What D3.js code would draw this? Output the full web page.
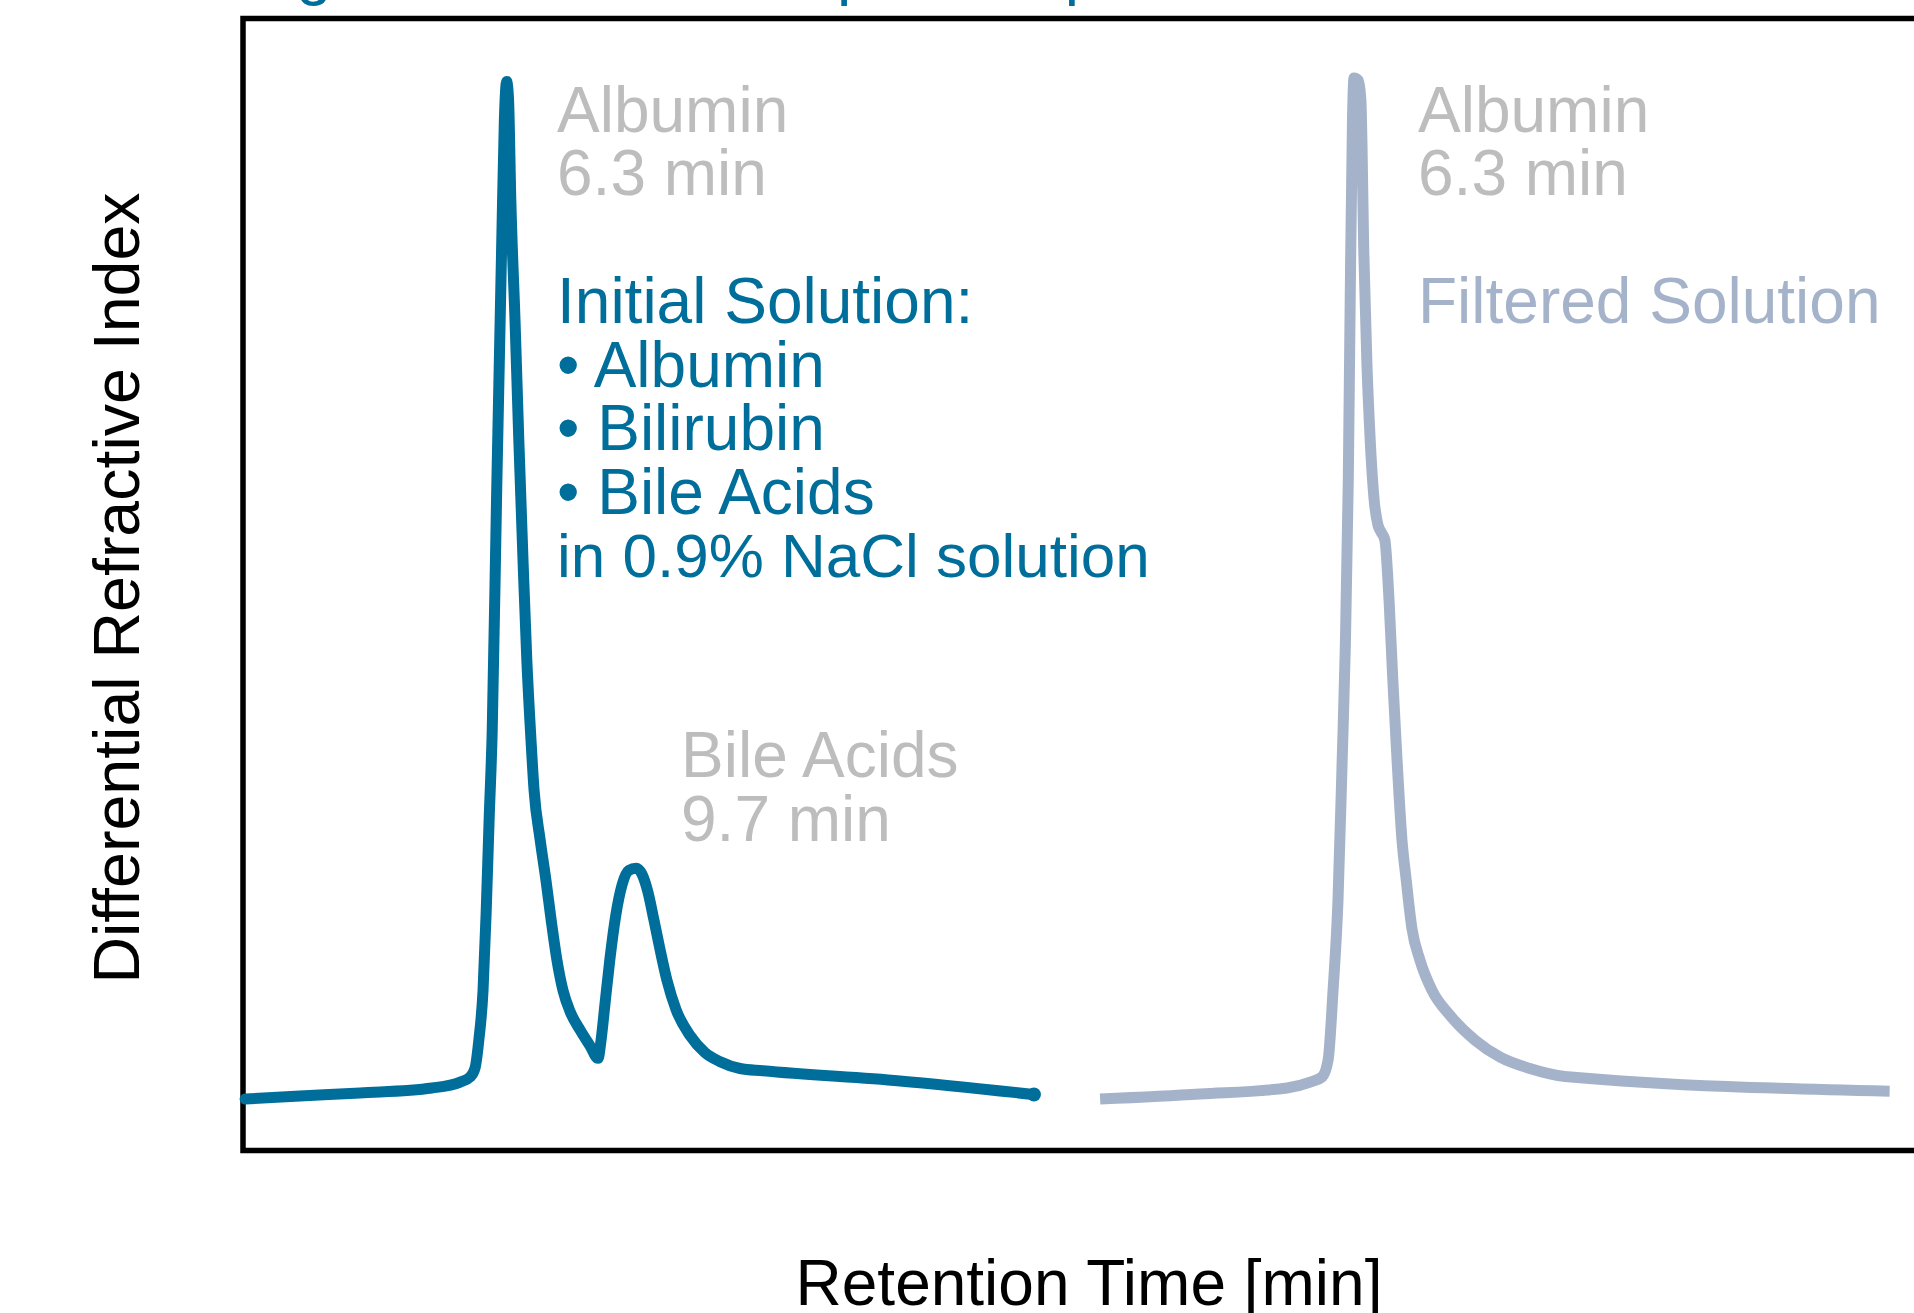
<!DOCTYPE html>
<html>
<head>
<meta charset="utf-8">
<script src="https://cdn.jsdelivr.net/npm/d3@7"></script>
<style>
  html, body { margin: 0; padding: 0; background: #fff; }
  svg { display: block; }
  text { font-family: "Liberation Sans", Arial, sans-serif; }
</style>
</head>
<body>
<svg id="chart" width="1914" height="1313"></svg>
<script>
// ---------- DATA ----------
const titleText = "Figure 4: HPLC Comparison prior to and after Filtration";
const xAxisLabel = "Retention Time [min]";
const yAxisLabel = "Differential Refractive Index";

// Initial solution chromatogram (retention time in min, detector signal in a.u.)
const initialTime = [-0.57, 0.87, 2.45, 4.34, 5.08, 5.34, 5.47, 5.57, 5.68, 5.76, 5.84, 5.92, 6.04, 6.17, 6.24, 6.30,
  6.35, 6.41, 6.52, 6.62, 6.73, 6.83, 6.94, 7.02, 7.18, 7.33, 7.47, 7.62, 7.78, 7.97, 8.23, 8.49, 8.70,
  8.78, 8.88, 9.01, 9.17, 9.33, 9.51, 9.70, 9.85, 10.01, 10.17, 10.33, 10.51, 10.75, 11.12, 11.51, 11.91,
  12.43, 13.03, 16.63, 20.15];
const initialSignal = [4.5, 4.77, 5.04, 5.48, 6.0, 6.45, 7.24, 9.72, 14.1, 20.8, 29.2, 36.9, 58.5, 80.0, 91.0, 94.4,
  92.8, 83.9, 73.3, 62.7, 52.1, 43.3, 36.2, 31.8, 27.4, 23.9, 20.3, 16.8, 14.1, 12.2, 10.6, 9.2, 8.1,
  9.7, 12.8, 16.8, 20.8, 23.4, 24.7, 24.9, 24.4, 22.8, 20.3, 17.7, 15.0, 12.4, 10.1, 8.6, 7.8,
  7.2, 7.0, 6.1, 4.9];

// Filtered solution chromatogram
const filteredTime = [-0.40, 2.23, 4.51, 5.12, 5.43, 5.59, 5.72, 5.85, 5.96, 6.04, 6.12, 6.17, 6.23, 6.27, 6.38,
  6.45, 6.53, 6.61, 6.69, 6.80, 6.90, 6.98, 7.08, 7.19, 7.29, 7.40, 7.53, 7.64, 7.79, 8.00, 8.32,
  8.79, 9.45, 10.11, 10.89, 11.81, 20.34];
const filteredSignal = [4.5, 4.95, 5.48, 6.0, 6.45, 7.95, 14.1, 22.1, 34.5, 44.2, 59.2, 75.1, 91.0, 94.7, 94.5,
  92.8, 79.0, 69.4, 63.1, 57.4, 55.2, 54.6, 53.9, 48.6, 41.5, 34.5, 27.4, 23.9, 19.6, 16.8, 14.1,
  11.9, 9.7, 8.2, 7.2, 6.5, 5.2];

// Annotations
const peakLabelsLeft = ["Albumin", "6.3 min"];
const initialLines = ["Initial Solution:", "\u2022 Albumin", "\u2022 Bilirubin", "\u2022 Bile Acids", "in 0.9% NaCl solution"];
const bileLabel = ["Bile Acids", "9.7 min"];
const peakLabelsRight = ["Albumin", "6.3 min"];
const filteredLabel = ["Filtered Solution"];

// ---------- LAYOUT ----------
const frame = { left: 243, top: 18.5, right: 1933, bottom: 1150.5 };
const blue = "#006e9a";
const grayText = "#bdbdbd";
const steel = "#a5b3ca";
const fs = 64;
const lh = 63.6;

const svg = d3.select("#chart");

const yScale = d3.scaleLinear().domain([0, 100]).range([1150, 18]);
const xInitial = d3.scaleLinear().domain([0, 20]).range([266.8, 266.8 + 20 * 38.07]);
const xFiltered = d3.scaleLinear().domain([0, 20]).range([1115.3, 1115.3 + 20 * 38.07]);

// title (mostly outside the view, as in the reference)
svg.append("text")
  .attr("x", 243).attr("y", -7)
  .attr("font-size", 64).attr("fill", blue)
  .text(titleText);

// frame
svg.append("rect")
  .attr("x", frame.left).attr("y", frame.top)
  .attr("width", frame.right - frame.left).attr("height", frame.bottom - frame.top)
  .attr("fill", "none").attr("stroke", "#000").attr("stroke-width", 5.5);

// axis labels
svg.append("text")
  .attr("x", 1089).attr("y", 1305)
  .attr("text-anchor", "middle").attr("font-size", 64).attr("fill", "#000")
  .text(xAxisLabel);

svg.append("text")
  .attr("transform", "translate(139,588) rotate(-90)")
  .attr("text-anchor", "middle").attr("font-size", 64.5).attr("fill", "#000")
  .text(yAxisLabel);

// curves
const initialData = initialTime.map((t, i) => ({ t, v: initialSignal[i] }));
const filteredData = filteredTime.map((t, i) => ({ t, v: filteredSignal[i] }));

const lineInitial = d3.line().x(d => xInitial(d.t)).y(d => yScale(d.v)).curve(d3.curveMonotoneX);
const lineFiltered = d3.line().x(d => xFiltered(d.t)).y(d => yScale(d.v)).curve(d3.curveMonotoneX);

svg.append("path")
  .datum(filteredData)
  .attr("d", lineFiltered)
  .attr("fill", "none").attr("stroke", steel).attr("stroke-width", 11)
  .attr("stroke-linejoin", "round").attr("stroke-linecap", "butt");

svg.append("path")
  .datum(initialData)
  .attr("d", lineInitial)
  .attr("fill", "none").attr("stroke", blue).attr("stroke-width", 11)
  .attr("stroke-linejoin", "round").attr("stroke-linecap", "round");

const lastInit = initialData[initialData.length - 1];
svg.append("circle")
  .attr("cx", xInitial(lastInit.t)).attr("cy", yScale(lastInit.v))
  .attr("r", 7).attr("fill", blue);

// annotations
function block(lines, x, y, color, sizes) {
  const t = svg.append("text").attr("font-size", fs).attr("fill", color);
  lines.forEach((s, i) => {
    const sp = t.append("tspan").attr("x", x).attr("y", y + i * lh).text(s);
    if (sizes && sizes[i]) sp.attr("font-size", sizes[i]);
  });
}
block(peakLabelsLeft, 557, 131.5, grayText);
block(initialLines, 557, 323, blue, [null, null, null, null, 62]);
block(bileLabel, 681, 777, grayText);
block(peakLabelsRight, 1418, 131.5, grayText);
block(filteredLabel, 1418, 323, steel);
</script>
</body>
</html>
